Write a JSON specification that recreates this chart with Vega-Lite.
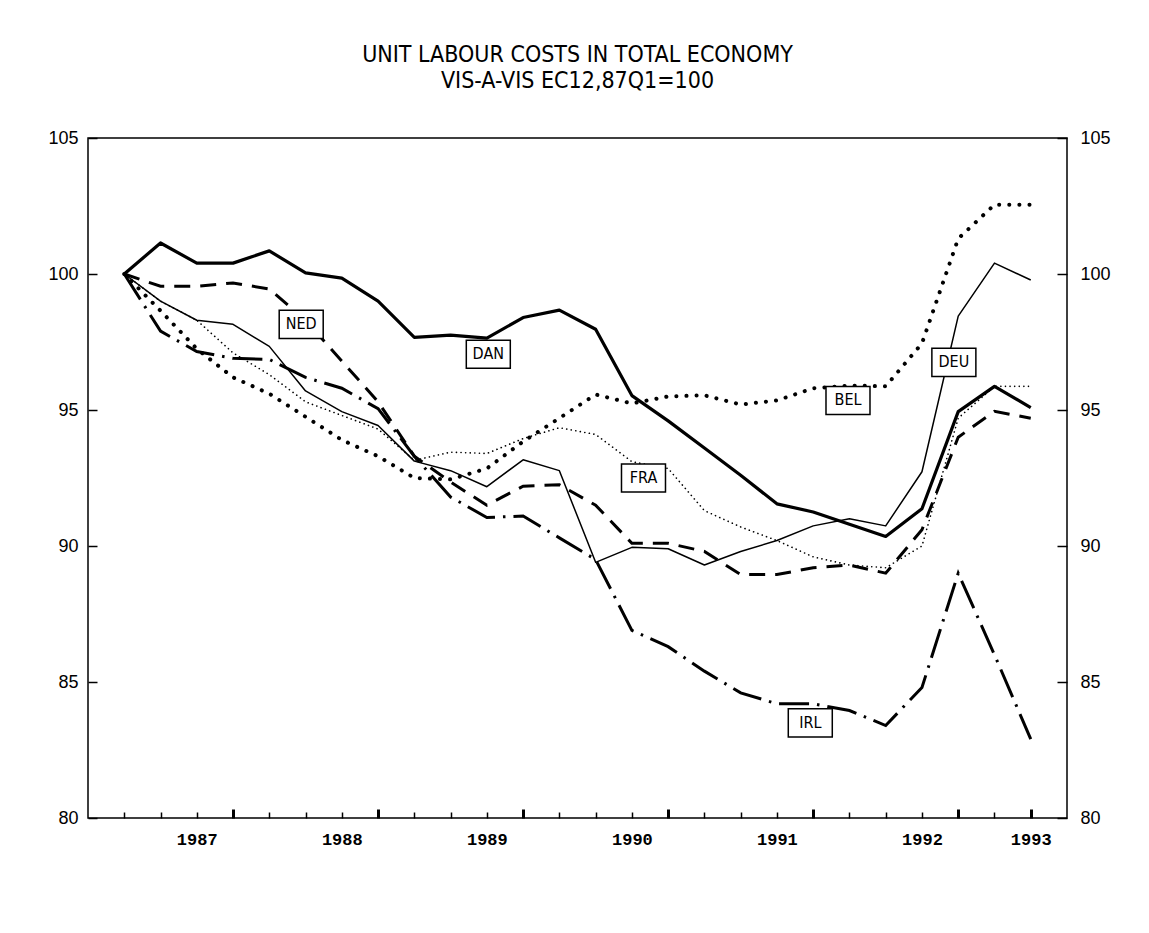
{
  "$schema": "https://vega.github.io/schema/vega-lite/v6.json",
  "width": 979,
  "height": 680,
  "autosize": {"type": "none"},
  "padding": {"left": 88, "top": 138, "right": 82, "bottom": 115},
  "background": "white",
  "config": {
    "view": {"stroke": "black", "strokeWidth": 1.5},
    "axis": {"domain": false, "grid": false, "title": null, "tickColor": "black", "labelColor": "black"}
  },
  "title": {
    "text": ["UNIT LABOUR COSTS IN TOTAL ECONOMY", "VIS-A-VIS EC12,87Q1=100"],
    "font": "DejaVu Sans Condensed, Liberation Sans Narrow, sans-serif",
    "fontSize": 23,
    "fontWeight": "normal",
    "color": "black",
    "anchor": "middle",
    "frame": "group",
    "offset": 36,
    "lineHeight": 26
  },
  "datasets": {
    "series": [
      {"c":"DAN","t":1987,"v":100},{"c":"DAN","t":1987.25,"v":101.14},{"c":"DAN","t":1987.5,"v":100.4},{"c":"DAN","t":1987.75,"v":100.4},
      {"c":"DAN","t":1988,"v":100.85},{"c":"DAN","t":1988.25,"v":100.04},{"c":"DAN","t":1988.5,"v":99.85},{"c":"DAN","t":1988.75,"v":99.0},
      {"c":"DAN","t":1989,"v":97.67},{"c":"DAN","t":1989.25,"v":97.75},{"c":"DAN","t":1989.5,"v":97.64},{"c":"DAN","t":1989.75,"v":98.4},
      {"c":"DAN","t":1990,"v":98.67},{"c":"DAN","t":1990.25,"v":97.97},{"c":"DAN","t":1990.5,"v":95.53},{"c":"DAN","t":1990.75,"v":94.6},
      {"c":"DAN","t":1991,"v":93.6},{"c":"DAN","t":1991.25,"v":92.6},{"c":"DAN","t":1991.5,"v":91.55},{"c":"DAN","t":1991.75,"v":91.25},
      {"c":"DAN","t":1992,"v":90.8},{"c":"DAN","t":1992.25,"v":90.35},{"c":"DAN","t":1992.5,"v":91.37},{"c":"DAN","t":1992.75,"v":94.94},
      {"c":"DAN","t":1993,"v":95.87},{"c":"DAN","t":1993.25,"v":95.09},

      {"c":"DEU","t":1987,"v":100},{"c":"DEU","t":1987.25,"v":99.0},{"c":"DEU","t":1987.5,"v":98.3},{"c":"DEU","t":1987.75,"v":98.15},
      {"c":"DEU","t":1988,"v":97.34},{"c":"DEU","t":1988.25,"v":95.7},{"c":"DEU","t":1988.5,"v":94.94},{"c":"DEU","t":1988.75,"v":94.43},
      {"c":"DEU","t":1989,"v":93.12},{"c":"DEU","t":1989.25,"v":92.77},{"c":"DEU","t":1989.5,"v":92.18},{"c":"DEU","t":1989.75,"v":93.17},
      {"c":"DEU","t":1990,"v":92.77},{"c":"DEU","t":1990.25,"v":89.4},{"c":"DEU","t":1990.5,"v":89.95},{"c":"DEU","t":1990.75,"v":89.9},
      {"c":"DEU","t":1991,"v":89.3},{"c":"DEU","t":1991.25,"v":89.8},{"c":"DEU","t":1991.5,"v":90.2},{"c":"DEU","t":1991.75,"v":90.74},
      {"c":"DEU","t":1992,"v":91.0},{"c":"DEU","t":1992.25,"v":90.74},{"c":"DEU","t":1992.5,"v":92.73},{"c":"DEU","t":1992.75,"v":98.45},
      {"c":"DEU","t":1993,"v":100.4},{"c":"DEU","t":1993.25,"v":99.78},

      {"c":"FRA","t":1987,"v":100},{"c":"FRA","t":1987.25,"v":99.0},{"c":"FRA","t":1987.5,"v":98.3},{"c":"FRA","t":1987.75,"v":97.1},
      {"c":"FRA","t":1988,"v":96.3},{"c":"FRA","t":1988.25,"v":95.3},{"c":"FRA","t":1988.5,"v":94.8},{"c":"FRA","t":1988.75,"v":94.3},
      {"c":"FRA","t":1989,"v":93.15},{"c":"FRA","t":1989.25,"v":93.45},{"c":"FRA","t":1989.5,"v":93.4},{"c":"FRA","t":1989.75,"v":93.95},
      {"c":"FRA","t":1990,"v":94.35},{"c":"FRA","t":1990.25,"v":94.1},{"c":"FRA","t":1990.5,"v":93.1},{"c":"FRA","t":1990.75,"v":92.85},
      {"c":"FRA","t":1991,"v":91.3},{"c":"FRA","t":1991.25,"v":90.7},{"c":"FRA","t":1991.5,"v":90.2},{"c":"FRA","t":1991.75,"v":89.6},
      {"c":"FRA","t":1992,"v":89.3},{"c":"FRA","t":1992.25,"v":89.2},{"c":"FRA","t":1992.5,"v":90.0},{"c":"FRA","t":1992.75,"v":94.7},
      {"c":"FRA","t":1993,"v":95.87},{"c":"FRA","t":1993.25,"v":95.87},

      {"c":"BEL","t":1987,"v":100},{"c":"BEL","t":1987.25,"v":98.65},{"c":"BEL","t":1987.5,"v":97.25},{"c":"BEL","t":1987.75,"v":96.2},
      {"c":"BEL","t":1988,"v":95.6},{"c":"BEL","t":1988.25,"v":94.75},{"c":"BEL","t":1988.5,"v":93.9},{"c":"BEL","t":1988.75,"v":93.3},
      {"c":"BEL","t":1989,"v":92.5},{"c":"BEL","t":1989.25,"v":92.45},{"c":"BEL","t":1989.5,"v":92.85},{"c":"BEL","t":1989.75,"v":93.84},
      {"c":"BEL","t":1990,"v":94.7},{"c":"BEL","t":1990.25,"v":95.57},{"c":"BEL","t":1990.5,"v":95.24},{"c":"BEL","t":1990.75,"v":95.5},
      {"c":"BEL","t":1991,"v":95.54},{"c":"BEL","t":1991.25,"v":95.2},{"c":"BEL","t":1991.5,"v":95.35},{"c":"BEL","t":1991.75,"v":95.8},
      {"c":"BEL","t":1992,"v":95.9},{"c":"BEL","t":1992.25,"v":95.87},{"c":"BEL","t":1992.5,"v":97.45},{"c":"BEL","t":1992.75,"v":101.3},
      {"c":"BEL","t":1993,"v":102.55},{"c":"BEL","t":1993.25,"v":102.55},

      {"c":"NED","t":1987,"v":100},{"c":"NED","t":1987.25,"v":99.55},{"c":"NED","t":1987.5,"v":99.55},{"c":"NED","t":1987.75,"v":99.67},
      {"c":"NED","t":1988,"v":99.45},{"c":"NED","t":1988.25,"v":98.3},{"c":"NED","t":1988.5,"v":96.8},{"c":"NED","t":1988.75,"v":95.3},
      {"c":"NED","t":1989,"v":93.3},{"c":"NED","t":1989.25,"v":92.35},{"c":"NED","t":1989.5,"v":91.5},{"c":"NED","t":1989.75,"v":92.2},
      {"c":"NED","t":1990,"v":92.25},{"c":"NED","t":1990.25,"v":91.5},{"c":"NED","t":1990.5,"v":90.1},{"c":"NED","t":1990.75,"v":90.1},
      {"c":"NED","t":1991,"v":89.8},{"c":"NED","t":1991.25,"v":88.95},{"c":"NED","t":1991.5,"v":88.95},{"c":"NED","t":1991.75,"v":89.2},
      {"c":"NED","t":1992,"v":89.3},{"c":"NED","t":1992.25,"v":89.0},{"c":"NED","t":1992.5,"v":90.6},{"c":"NED","t":1992.75,"v":94.0},
      {"c":"NED","t":1993,"v":94.95},{"c":"NED","t":1993.25,"v":94.7},

      {"c":"IRL","t":1987,"v":100},{"c":"IRL","t":1987.25,"v":97.9},{"c":"IRL","t":1987.5,"v":97.15},{"c":"IRL","t":1987.75,"v":96.9},
      {"c":"IRL","t":1988,"v":96.86},{"c":"IRL","t":1988.25,"v":96.2},{"c":"IRL","t":1988.5,"v":95.8},{"c":"IRL","t":1988.75,"v":95.05},
      {"c":"IRL","t":1989,"v":93.3},{"c":"IRL","t":1989.25,"v":91.8},{"c":"IRL","t":1989.5,"v":91.05},{"c":"IRL","t":1989.75,"v":91.1},
      {"c":"IRL","t":1990,"v":90.3},{"c":"IRL","t":1990.25,"v":89.5},{"c":"IRL","t":1990.5,"v":86.9},{"c":"IRL","t":1990.75,"v":86.3},
      {"c":"IRL","t":1991,"v":85.4},{"c":"IRL","t":1991.25,"v":84.6},{"c":"IRL","t":1991.5,"v":84.2},{"c":"IRL","t":1991.75,"v":84.2},
      {"c":"IRL","t":1992,"v":83.95},{"c":"IRL","t":1992.25,"v":83.4},{"c":"IRL","t":1992.5,"v":84.8},{"c":"IRL","t":1992.75,"v":89.0},
      {"c":"IRL","t":1993,"v":86.0},{"c":"IRL","t":1993.25,"v":82.9}
    ],
    "labels": [
      {"c":"NED","t":1988.22,"v":98.15},
      {"c":"DAN","t":1989.51,"v":97.05},
      {"c":"FRA","t":1990.58,"v":92.5},
      {"c":"DEU","t":1992.72,"v":96.75},
      {"c":"BEL","t":1991.99,"v":95.35},
      {"c":"IRL","t":1991.73,"v":83.5}
    ]
  },
  "encoding": {
    "x": {
      "field": "t",
      "type": "quantitative",
      "scale": {"domain": [1986.75, 1993.5], "nice": false, "zero": false},
      "axis": {
        "values": [1987,1987.25,1987.5,1987.75,1988,1988.25,1988.5,1988.75,1989,1989.25,1989.5,1989.75,1990,1990.25,1990.5,1990.75,1991,1991.25,1991.5,1991.75,1992,1992.25,1992.5,1992.75,1993,1993.25],
        "labelExpr": "datum.value == 1993.25 ? '1993' : (datum.value % 1 == 0.5 ? '' + floor(datum.value) : '')",
        "labelOverlap": false,
        "labelFlush": false,
        "labelFont": "Liberation Mono",
        "labelFontSize": 17,
        "labelFontWeight": "bold",
        "labelBaseline": "top",
        "tickSize": {"condition": {"test": "datum.value % 1 == 0.75 || datum.value == 1993.25", "value": -9}, "value": -6},
        "tickWidth": {"condition": {"test": "datum.value % 1 == 0.75 || datum.value == 1993.25", "value": 3}, "value": 1.5},
        "labelPadding": {"condition": {"test": "datum.value == 1993.25", "value": 22}, "value": 19}
      }
    }
  },
  "layer": [
    {
      "data": {"name": "series"},
      "transform": [{"filter": "datum.c == 'DAN'"}],
      "mark": {"type": "line", "color": "black", "strokeWidth": 3.2, "strokeJoin": "round"},
      "encoding": {
        "y": {
          "field": "v", "type": "quantitative",
          "scale": {"domain": [80, 105], "nice": false, "zero": false},
          "axis": {
            "orient": "left",
            "values": [80, 85, 90, 95, 100, 105],
            "tickSize": -9, "tickWidth": 1.5,
            "labelPadding": 19,
            "labelFont": "Liberation Sans", "labelFontSize": 18
          }
        }
      }
    },
    {
      "data": {"name": "series"},
      "transform": [{"filter": "datum.c == 'DEU'"}],
      "mark": {"type": "line", "color": "black", "strokeWidth": 1.5, "strokeJoin": "round"},
      "encoding": {"y": {"field": "v", "type": "quantitative", "axis": null}}
    },
    {
      "data": {"name": "series"},
      "transform": [{"filter": "datum.c == 'FRA'"}],
      "mark": {"type": "line", "color": "black", "strokeWidth": 1.6, "strokeCap": "round", "strokeDash": [0.1, 4.5]},
      "encoding": {"y": {"field": "v", "type": "quantitative", "axis": null}}
    },
    {
      "data": {"name": "series"},
      "transform": [{"filter": "datum.c == 'BEL'"}],
      "mark": {"type": "line", "color": "black", "strokeWidth": 4, "strokeCap": "round", "strokeDash": [0.1, 10]},
      "encoding": {"y": {"field": "v", "type": "quantitative", "axis": null}}
    },
    {
      "data": {"name": "series"},
      "transform": [{"filter": "datum.c == 'NED'"}],
      "mark": {"type": "line", "color": "black", "strokeWidth": 3, "strokeDash": [16, 10]},
      "encoding": {"y": {"field": "v", "type": "quantitative", "axis": null}}
    },
    {
      "data": {"name": "series"},
      "transform": [{"filter": "datum.c == 'IRL'"}],
      "mark": {"type": "line", "color": "black", "strokeWidth": 3, "strokeDash": [30, 8, 2.5, 8]},
      "encoding": {"y": {"field": "v", "type": "quantitative", "axis": null}}
    },
    {
      "data": {"name": "labels"},
      "mark": {"type": "point", "shape": "M-1,-0.64H1V0.64H-1Z", "size": 1936, "filled": true, "fill": "white", "stroke": "black", "strokeWidth": 1.5, "opacity": 1, "fillOpacity": 1, "strokeOpacity": 1},
      "encoding": {
        "y": {
          "field": "v", "type": "quantitative",
          "axis": {
            "orient": "right",
            "values": [80, 85, 90, 95, 100, 105],
            "tickSize": -10, "tickWidth": 1.5,
            "labelPadding": 23,
            "labelFont": "Liberation Sans", "labelFontSize": 18
          }
        }
      }
    },
    {
      "data": {"name": "labels"},
      "mark": {"type": "text", "font": "DejaVu Sans Condensed, Liberation Sans Narrow, sans-serif", "fontSize": 16, "color": "black", "align": "center", "baseline": "middle"},
      "encoding": {
        "y": {"field": "v", "type": "quantitative", "axis": null},
        "text": {"field": "c"}
      }
    }
  ],
  "resolve": {"axis": {"y": "independent"}}
}
